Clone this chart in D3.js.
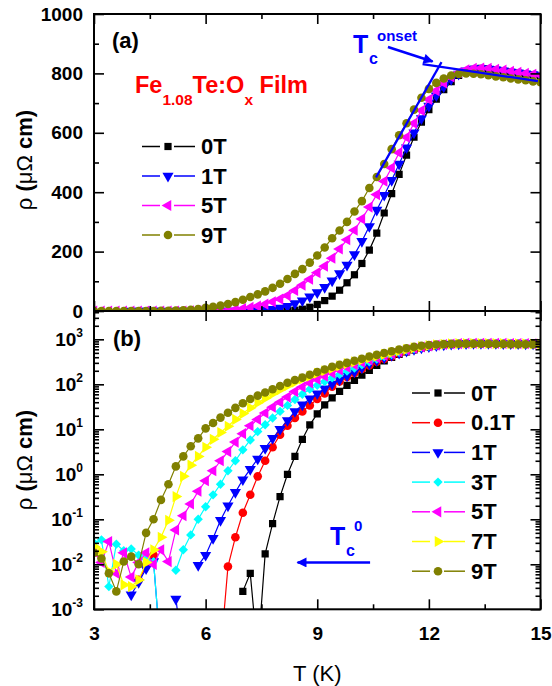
<!DOCTYPE html>
<html>
<head>
<meta charset="utf-8">
<script src="https://cdn.jsdelivr.net/npm/d3@7"></script>
<style>
body { margin: 0; background: #fff; }
svg { display: block; font-family: "Liberation Sans", Arial, sans-serif; }
</style>
</head>
<body>
<svg></svg>
<script>
var width = 552;
var height = 686;

// temperature grid (K)
var temps = [3.0, 3.2, 3.4, 3.6, 3.8, 4.0, 4.2, 4.4, 4.6, 4.8,
             5.0, 5.2, 5.4, 5.6, 5.8, 6.0, 6.2, 6.4, 6.6, 6.8,
             7.0, 7.2, 7.4, 7.6, 7.8, 8.0, 8.2, 8.4, 8.6, 8.8,
             9.0, 9.2, 9.4, 9.6, 9.8, 10.0, 10.2, 10.4, 10.6, 10.8,
             11.0, 11.2, 11.4, 11.6, 11.8, 12.0, 12.2, 12.4, 12.6, 12.8,
             13.0, 13.2, 13.4, 13.6, 13.8, 14.0, 14.2, 14.4, 14.6, 14.8,
             15.0];

// resistivity (micro-ohm cm), null = not plotted
var rho0T = [null, null, null, null, null, null, null, null, null, null,
             null, null, null, null, null, null, null, null, null, null,
             0.0025, 0.0063, 0.0001, 0.017, 0.08, 0.32, 1.0, 2.5, 6.0, 12.6,
             22, 35, 50, 70, 95, 122, 160, 205, 262, 330,
             395, 460, 525, 585, 636, 678, 713, 745, 772, 793,
             806, 814, 817, 815, 812, 808, 805, 801, 798, 795,
             792];
var rho01T = [null, null, null, null, null, null, 0.0045, 0.009, 0.016, null,
              null, null, null, null, null, null, null, 0.0001, 0.0089, 0.04,
              0.14, 0.35, 0.9, 2.0, 4.0, 7.6, 12, 17.8, 25, 34,
              47, 63, 89, 115, 145, 178, 219, 263, 316, 365,
              418, 478, 538, 592, 642, 684, 719, 750, 776, 795,
              807, 814, 816, 815, 812, 808, 805, 801, 798, 795,
              792];
var rho1T = [null, null, null, null, null, 0.0021, 0.004, 0.008, 0.0115, 0.0001,
             null, 0.0017, 0.0001, null, 0.0095, 0.016, 0.038, 0.095, 0.2, 0.4,
             0.76, 1.3, 2.2, 3.8, 6.3, 10, 15.8, 25, 35, 48,
             62, 80, 102, 126, 155, 190, 235, 285, 340, 390,
             440, 495, 550, 600, 648, 690, 725, 755, 780, 798,
             809, 815, 817, 815, 812, 809, 805, 802, 799, 796,
             793];
var rho3T = [0.030, 0.035, 0.0032, 0.028, 0.02, 0.022, 0.016, 0.013, 0.0115, 0.0001,
             null, 0.0074, 0.021, 0.045, 0.1, 0.19, 0.35, 0.6, 1.2, 2.0,
             3.5, 5.8, 8.9, 12.6, 17.8, 25, 34, 46, 60, 78,
             95, 115, 140, 166, 198, 230, 272, 318, 365, 413,
             460, 514, 567, 616, 661, 701, 733, 761, 784, 800,
             810, 815, 817, 815, 812, 809, 805, 802, 799, 796,
             793];
var rho5T = [0.019, 0.011, 0.032, 0.0063, 0.018, 0.0052, 0.011, 0.018, 0.01, 0.021,
             0.0115, 0.058, 0.12, 0.22, 0.42, 0.72, 1.2, 2.0, 3.2, 5.2,
             8.0, 12, 16.6, 23, 31, 40, 52, 69, 87, 107,
             129, 151, 178, 209, 240, 272, 310, 350, 392, 437,
             482, 533, 585, 632, 675, 712, 742, 768, 788, 803,
             812, 817, 818, 817, 814, 811, 807, 804, 800, 797,
             794];
var rho7T = [0.025, 0.019, 0.0069, 0.01, 0.0035, 0.0032, 0.0045, 0.011, 0.021, 0.04,
             0.095, 0.32, 0.9, 1.6, 2.5, 4.0, 6.0, 8.5, 11.7, 16.6,
             22.4, 30, 39, 49, 62, 76, 93, 112, 132, 152,
             176, 200, 226, 257, 288, 316, 347, 385, 420, 462,
             505, 550, 597, 645, 690, 728, 756, 777, 792, 801,
             806, 808, 808, 806, 803, 800, 797, 794, 791, 788,
             785];
var rho9T = [0.018, 0.0135, 0.0063, 0.0025, 0.0115, 0.0148, 0.01, 0.05, 0.1, 0.27,
             0.6, 1.5, 2.5, 4.2, 6.3, 10.5, 13.8, 18.2, 23.4, 30,
             38, 47, 56, 66, 78, 92, 108, 125, 141, 163,
             187, 214, 245, 271, 300, 335, 370, 414, 451, 495,
             545, 592, 632, 678, 718, 748, 768, 783, 793, 798,
             800, 799, 797, 794, 790, 787, 783, 780, 777, 773,
             770];

var fieldNames = ["0T", "0.1T", "1T", "3T", "5T", "7T", "9T"];
var fieldColors = ["#000000", "#ff0000", "#0000ff", "#00ffff", "#ff00ff", "#ffff00", "#808000"];
var fieldShapes = ["square", "circle", "down", "diamond", "left", "right", "circle"];
var fieldValues = [rho0T, rho01T, rho1T, rho3T, rho5T, rho7T, rho9T];
var topFields = ["0T", "1T", "5T", "9T"];

var xTicks = [3, 6, 9, 12, 15];
var xMinor = [4.5, 7.5, 10.5, 13.5];
var linTicks = [0, 200, 400, 600, 800, 1000];
var linMinor = [100, 300, 500, 700, 900];
var logTicks = [1e-3, 1e-2, 1e-1, 1e0, 1e1, 1e2, 1e3];
var logExps = ["-3", "-2", "-1", "0", "1", "2", "3"];

// guide lines for the onset (T, rho)
var onsetSteep = [[10.58, 450], [12.34, 838]];
var onsetFlat = [[11.83, 831], [14.93, 774]];
var onsetArrow = [[10.9, 889], [12.1, 840]];
var zeroArrow = [[10.42, 0.011], [8.47, 0.011]];

var series = fieldNames.map(function(n, i) {
  return { name: n, color: fieldColors[i], shape: fieldShapes[i], values: fieldValues[i] };
});

var left = 94, right = 540.5;
var x = d3.scaleLinear().domain([3, 15]).range([left, right]);
var yLin = d3.scaleLinear().domain([0, 1000]).range([311, 14]);
var yLog = d3.scaleLog().domain([1e-3, 4260]).range([609.3, 311]);

var svg = d3.select("svg")
            .attr("width", width)
            .attr("height", height);

var defs = svg.append("defs");
defs.append("clipPath").attr("id", "clipA")
  .append("rect").attr("x", left).attr("y", 14).attr("width", right - left).attr("height", 297);
defs.append("clipPath").attr("id", "clipB")
  .append("rect").attr("x", left).attr("y", 311).attr("width", right - left).attr("height", 298.3);
defs.append("marker")
    .attr("id", "head")
    .attr("viewBox", "0 0 10 10")
    .attr("refX", 9).attr("refY", 5)
    .attr("markerWidth", 5).attr("markerHeight", 4)
    .attr("markerUnits", "strokeWidth")
    .attr("orient", "auto")
  .append("path")
    .attr("d", "M0,0 L10,5 L0,10 Z")
    .attr("fill", "#0000ff");

var rot = { square: 0, circle: 0, diamond: 45, down: 180, left: -90, right: 90 };
function markerPath(shape) {
  if (shape === "square") return d3.symbol(d3.symbolSquare, 52)();
  if (shape === "circle") return d3.symbol(d3.symbolCircle, 58)();
  if (shape === "diamond") return d3.symbol(d3.symbolSquare, 44)();
  return d3.symbol(d3.symbolTriangle, 54)();
}

function drawSeries(g, yScale, list) {
  list.forEach(function(s) {
    var pts = temps.map(function(t, i) { return { t: t, v: s.values[i] }; });
    var line = d3.line()
                 .defined(d => d.v !== null)
                 .x(d => x(d.t))
                 .y(d => yScale(d.v));
    g.append("path")
     .attr("d", line(pts))
     .attr("fill", "none")
     .attr("stroke", s.color)
     .attr("stroke-width", 1.2);
    g.selectAll(null)
     .data(pts.filter(d => d.v !== null))
     .enter()
     .append("path")
       .attr("d", markerPath(s.shape))
       .attr("transform", d => "translate(" + x(d.t) + "," + yScale(d.v) + ") rotate(" + rot[s.shape] + ")")
       .attr("fill", s.color);
  });
}

// panel (a)
var gA = svg.append("g").attr("clip-path", "url(#clipA)");
drawSeries(gA, yLin, series.filter(s => topFields.indexOf(s.name) >= 0));

// panel (b)
var gB = svg.append("g").attr("clip-path", "url(#clipB)");
drawSeries(gB, yLog, series);

// axes
function tickAxis(axis, tx, ty) {
  var g = svg.append("g")
             .attr("transform", "translate(" + tx + "," + ty + ")")
             .call(axis);
  g.select(".domain").remove();
  g.selectAll("line").attr("stroke-width", 1.6);
  g.selectAll("text")
   .attr("font-size", 19)
   .attr("font-weight", "bold")
   .attr("font-family", "Liberation Sans, Arial, sans-serif")
   .attr("fill", "#000");
  return g;
}

var minorLog = yLog.ticks().filter(v => logTicks.indexOf(v) < 0);

tickAxis(d3.axisLeft(yLin).tickValues(linTicks).tickSize(-10).tickPadding(11).tickFormat(d3.format("d")), left, 0);
tickAxis(d3.axisLeft(yLin).tickValues(linMinor).tickSize(-5).tickFormat(""), left, 0);
tickAxis(d3.axisRight(yLin).tickValues(linTicks).tickSize(-10).tickFormat(""), right, 0);
tickAxis(d3.axisRight(yLin).tickValues(linMinor).tickSize(-5).tickFormat(""), right, 0);
tickAxis(d3.axisTop(x).tickValues(xTicks).tickSize(-10).tickFormat(""), 0, 14);
tickAxis(d3.axisTop(x).tickValues(xMinor).tickSize(-5).tickFormat(""), 0, 14);
tickAxis(d3.axisBottom(x).tickValues(xTicks).tickSize(-10).tickFormat(""), 0, 311);
tickAxis(d3.axisBottom(x).tickValues(xMinor).tickSize(-5).tickFormat(""), 0, 311);

tickAxis(d3.axisTop(x).tickValues(xTicks).tickSize(-10).tickFormat(""), 0, 311);
tickAxis(d3.axisTop(x).tickValues(xMinor).tickSize(-5).tickFormat(""), 0, 311);
tickAxis(d3.axisBottom(x).tickValues(xTicks).tickSize(-10).tickPadding(17).tickFormat(d3.format("d")), 0, 609.3);
tickAxis(d3.axisBottom(x).tickValues(xMinor).tickSize(-5).tickFormat(""), 0, 609.3);
tickAxis(d3.axisLeft(yLog).tickValues(logTicks).tickSize(-10).tickFormat(""), left, 0);
tickAxis(d3.axisLeft(yLog).tickValues(minorLog).tickSize(-5).tickFormat(""), left, 0);
tickAxis(d3.axisRight(yLog).tickValues(logTicks).tickSize(-10).tickFormat(""), right, 0);
tickAxis(d3.axisRight(yLog).tickValues(minorLog).tickSize(-5).tickFormat(""), right, 0);

// log tick labels 10^n
var logLab = svg.append("g")
                .selectAll("text")
                .data(logTicks)
                .enter()
                .append("text")
                  .attr("x", 83)
                  .attr("y", d => yLog(d) + 7)
                  .attr("text-anchor", "end")
                  .attr("font-size", 19)
                  .attr("font-weight", "bold");
logLab.append("tspan").text("10");
logLab.append("tspan")
        .attr("dy", -9)
        .attr("font-size", 12)
        .text((d, i) => logExps[i]);

// frames
[[14, 311], [311, 609.3]].forEach(function(p) {
  svg.append("rect")
     .attr("x", left).attr("y", p[0])
     .attr("width", right - left).attr("height", p[1] - p[0])
     .attr("fill", "none")
     .attr("stroke", "#000")
     .attr("stroke-width", 2);
});

// axis titles
[160, 460].forEach(function(cy) {
  var t = svg.append("text")
             .attr("transform", "translate(32," + cy + ") rotate(-90)")
             .attr("text-anchor", "middle")
             .attr("font-size", 22);
  t.append("tspan").text("ρ ");
  t.append("tspan").attr("font-weight", "bold").text("(");
  t.append("tspan").text("μΩ");
  t.append("tspan").attr("font-weight", "bold").text(" cm)");
});

svg.append("text")
   .attr("x", (left + right) / 2)
   .attr("y", 681)
   .attr("text-anchor", "middle")
   .attr("font-size", 22)
   .text("T (K)");

// panel letters
svg.append("text").attr("x", 112).attr("y", 48)
   .attr("font-size", 22).attr("font-weight", "bold").text("(a)");
svg.append("text").attr("x", 113).attr("y", 346)
   .attr("font-size", 22).attr("font-weight", "bold").text("(b)");

// sample name
var title = svg.append("text")
               .attr("x", 135)
               .attr("y", 93)
               .attr("fill", "#ff0000")
               .attr("font-size", 23.5)
               .attr("font-weight", "bold");
title.append("tspan").text("Fe");
title.append("tspan").attr("font-size", 15.5).attr("dy", 12).text("1.08");
title.append("tspan").attr("dy", -12).text("Te:O");
title.append("tspan").attr("font-size", 15.5).attr("dy", 12).text("x");
title.append("tspan").attr("dy", -12).text(" Film");

// legends
function legend(list, x0, y0, step) {
  list.forEach(function(s, i) {
    var yy = y0 + i * step;
    var g = svg.append("g");
    g.append("line").attr("x1", x0).attr("x2", x0 + 18).attr("y1", yy).attr("y2", yy)
     .attr("stroke", s.color).attr("stroke-width", 1.5);
    g.append("line").attr("x1", x0 + 32).attr("x2", x0 + 53).attr("y1", yy).attr("y2", yy)
     .attr("stroke", s.color).attr("stroke-width", 1.5);
    g.append("path")
     .attr("d", markerPath(s.shape))
     .attr("transform", "translate(" + (x0 + 26) + "," + yy + ") rotate(" + rot[s.shape] + ")")
     .attr("fill", s.color);
    g.append("text")
     .attr("x", x0 + 59)
     .attr("y", yy + 7.5)
     .attr("font-size", 22)
     .attr("font-weight", "bold")
     .text(s.name);
  });
}
legend(series.filter(s => topFields.indexOf(s.name) >= 0), 142, 146.5, 29.5);
legend(series, 412, 393, 29.7);

// onset construction
var guide = d3.line().x(d => x(d[0])).y(d => yLin(d[1]));
[onsetSteep, onsetFlat].forEach(function(l) {
  svg.append("path").attr("d", guide(l))
     .attr("stroke", "#0000ff").attr("stroke-width", 2.2).attr("fill", "none");
});
svg.append("path").attr("d", guide(onsetArrow))
   .attr("stroke", "#0000ff").attr("stroke-width", 2.5).attr("fill", "none")
   .attr("marker-end", "url(#head)");

var guideLog = d3.line().x(d => x(d[0])).y(d => yLog(d[1]));
svg.append("path").attr("d", guideLog(zeroArrow))
   .attr("stroke", "#0000ff").attr("stroke-width", 2.5).attr("fill", "none")
   .attr("marker-end", "url(#head)");

function tcLabel(xp, yp, sup, supDy) {
  var g = svg.append("g").attr("fill", "#0000ff").attr("font-weight", "bold");
  g.append("text").attr("x", xp).attr("y", yp).attr("font-size", 25).text("T");
  g.append("text").attr("x", xp + 16).attr("y", yp + 11).attr("font-size", 16).text("c");
  g.append("text").attr("x", xp + 24).attr("y", yp + supDy).attr("font-size", 15).text(sup);
}
tcLabel(353, 53, "onset", -12);
tcLabel(330, 545, "0", -14);
</script>
</body>
</html>
